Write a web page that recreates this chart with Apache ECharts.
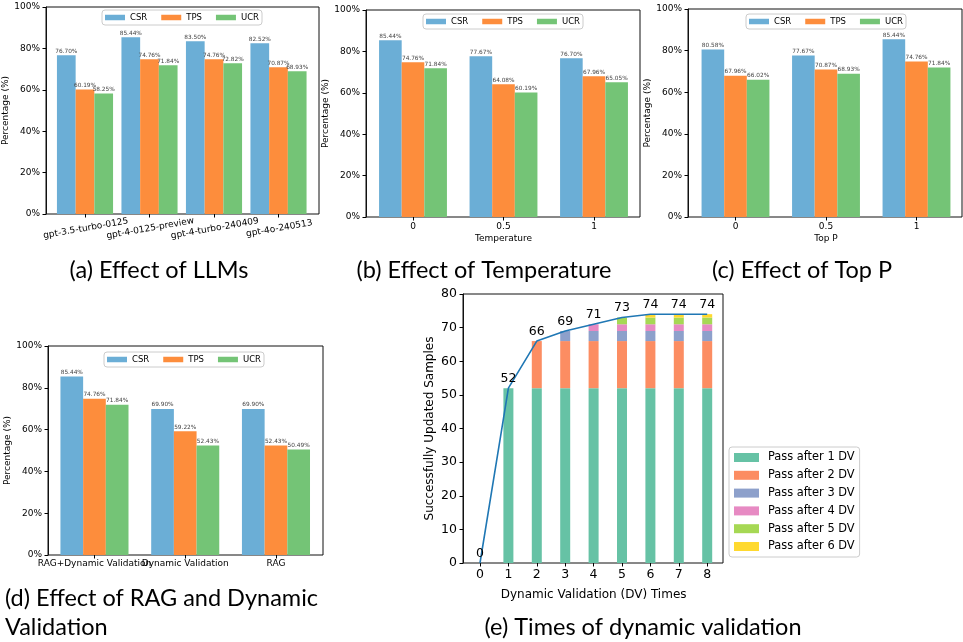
<!DOCTYPE html>
<html><head><meta charset="utf-8">
<script src="https://cdn.jsdelivr.net/npm/echarts@6/dist/echarts.min.js"></script>
<style>html,body{margin:0;padding:0;background:#fff}#c{width:963px;height:642px}</style>
</head><body><div id="c"></div>
<script>
// ---------- data ----------
const seriesNames = ['CSR', 'TPS', 'UCR'];

const llmCategories = ['gpt-3.5-turbo-0125', 'gpt-4-0125-preview', 'gpt-4-turbo-240409', 'gpt-4o-240513'];
const llmCSR = [76.70, 85.44, 83.50, 82.52];
const llmTPS = [60.19, 74.76, 74.76, 70.87];
const llmUCR = [58.25, 71.84, 72.82, 68.93];

const tempCategories = ['0', '0.5', '1'];
const tempCSR = [85.44, 77.67, 76.70];
const tempTPS = [74.76, 64.08, 67.96];
const tempUCR = [71.84, 60.19, 65.05];

const topPCategories = ['0', '0.5', '1'];
const topPCSR = [80.58, 77.67, 85.44];
const topPTPS = [67.96, 70.87, 74.76];
const topPUCR = [66.02, 68.93, 71.84];

const ragCategories = ['RAG+Dynamic Validation', 'Dynamic Validation', 'RAG'];
const ragCSR = [85.44, 69.90, 69.90];
const ragTPS = [74.76, 59.22, 52.43];
const ragUCR = [71.84, 52.43, 50.49];

const dvCategories = ['0', '1', '2', '3', '4', '5', '6', '7', '8'];
const dvLegendNames = ['Pass after 1 DV', 'Pass after 2 DV', 'Pass after 3 DV', 'Pass after 4 DV', 'Pass after 5 DV', 'Pass after 6 DV'];
const passAfter1 = [0, 52, 52, 52, 52, 52, 52, 52, 52];
const passAfter2 = [0, 0, 14, 14, 14, 14, 14, 14, 14];
const passAfter3 = [0, 0, 0, 3, 3, 3, 3, 3, 3];
const passAfter4 = [0, 0, 0, 0, 2, 2, 2, 2, 2];
const passAfter5 = [0, 0, 0, 0, 0, 2, 2, 2, 2];
const passAfter6 = [0, 0, 0, 0, 0, 0, 1, 1, 1];
const dvTotals = [0, 52, 66, 69, 71, 73, 74, 74, 74];

const captions = [
  {text: '(a) Effect of LLMs', x: 159, y: 270, align: 'center'},
  {text: '(b) Effect of Temperature', x: 484, y: 270, align: 'center'},
  {text: '(c) Effect of Top P', x: 802, y: 270, align: 'center'},
  {text: '(d) Effect of RAG and Dynamic', x: 5, y: 598, align: 'left'},
  {text: 'Validation', x: 5, y: 627, align: 'left'},
  {text: '(e) Times of dynamic validation', x: 643, y: 627, align: 'center'}
];

// ---------- style ----------
const FONT = 'DejaVu Sans';
const CAP_FONT = 'Lato';
const barColors = ['#6baed6', '#fd8d3c', '#74c476'];
const dvColors = ['#66c2a5', '#fc8d62', '#8da0cb', '#e78ac3', '#a6d854', '#ffd92f'];

const panels = [
  {frame: {left: 46, top: 7, width: 273, height: 207}, inner: {left: 52.75, width: 258},
   cats: llmCategories, vals: [llmCSR, llmTPS, llmUCR], gap: '13%', xName: '', rotate: 10, labelMargin: 10,
   legend: {left: 102, top: 10}},
  {frame: {left: 366, top: 10, width: 274, height: 207}, inner: {left: 367.75, width: 271.5},
   cats: tempCategories, vals: [tempCSR, tempTPS, tempUCR], gap: '25%', xName: 'Temperature', rotate: 0, labelMargin: 5,
   legend: {left: 423, top: 14}},
  {frame: {left: 688, top: 9, width: 274, height: 208}, inner: {left: 690.25, width: 271.5},
   cats: topPCategories, vals: [topPCSR, topPTPS, topPUCR], gap: '25%', xName: 'Top P', rotate: 0, labelMargin: 5,
   legend: {left: 746, top: 14}},
  {frame: {left: 48, top: 346, width: 275, height: 209}, inner: {left: 49.1, width: 272.25},
   cats: ragCategories, vals: [ragCSR, ragTPS, ragUCR], gap: '25%', xName: '', rotate: 0, labelMargin: 4,
   legend: {left: 104, top: 352}}
];

const grid = [], xAxis = [], yAxis = [], series = [], legend = [];
const tickStyle = {show: true, length: 3.5, lineStyle: {color: '#000', width: 1}};

panels.forEach((p, i) => {
  const f = p.frame;
  grid.push({left: f.left, top: f.top, width: f.width, height: f.height, show: true,
    borderColor: '#111', borderWidth: 1, backgroundColor: 'transparent', containLabel: false});
  grid.push({left: p.inner.left, top: f.top, width: p.inner.width, height: f.height, containLabel: false});
  const fi = 2 * i, ii = 2 * i + 1;
  xAxis.push({type: 'value', gridIndex: fi, min: 0, max: 1, show: false});
  xAxis.push({type: 'category', gridIndex: ii, data: p.cats,
    axisLine: {show: false}, axisTick: Object.assign({alignWithLabel: true}, tickStyle),
    axisLabel: {fontFamily: FONT, fontSize: 9, color: '#000', margin: p.labelMargin, rotate: p.rotate,
      align: 'center', verticalAlign: 'top', interval: 0, hideOverlap: false},
    name: p.xName, nameLocation: 'middle', nameGap: 17,
    nameTextStyle: {fontFamily: FONT, fontSize: 9, color: '#000'}});
  yAxis.push({type: 'value', gridIndex: fi, min: 0, max: 100, interval: 20,
    name: 'Percentage (%)', nameLocation: 'middle', nameGap: 31,
    nameTextStyle: {fontFamily: FONT, fontSize: 9, color: '#000'},
    axisLine: {show: true, lineStyle: {color: '#111', width: 1}}, axisTick: tickStyle,
    axisLabel: {formatter: '{value}%', fontFamily: FONT, fontSize: 9, color: '#000', margin: 6},
    splitLine: {show: false}});
  yAxis.push({type: 'value', gridIndex: ii, min: 0, max: 100, show: false});
  p.vals.forEach((v, j) => {
    series.push({type: 'bar', name: seriesNames[j], xAxisIndex: ii, yAxisIndex: ii, data: v,
      barGap: '0%', barCategoryGap: p.gap, itemStyle: {color: barColors[j]},
      label: {show: true, position: 'top', distance: 1, formatter: q => q.value.toFixed(2) + '%',
        fontFamily: FONT, fontSize: 5.8, color: '#444'}});
  });
  legend.push({data: seriesNames, left: p.legend.left, top: p.legend.top, orient: 'horizontal',
    icon: 'rect', itemWidth: 20, itemHeight: 5.5, itemGap: 14, padding: [3, 3],
    borderColor: '#ccc', borderWidth: 1, borderRadius: 3, backgroundColor: '#fff',
    textStyle: {fontFamily: FONT, fontSize: 8.5, color: '#000'}, selectedMode: false});
});

// panel (e)
const eF = {left: 463, top: 294, width: 260, height: 269};
grid.push({left: eF.left, top: eF.top, width: eF.width, height: eF.height, show: true,
  borderColor: '#111', borderWidth: 1, backgroundColor: 'transparent'});
grid.push({left: 465.8, top: eF.top, width: 255.6, height: eF.height});
xAxis.push({type: 'value', gridIndex: 8, min: 0, max: 1, show: false});
xAxis.push({type: 'category', gridIndex: 9, data: dvCategories,
  axisLine: {show: false}, axisTick: Object.assign({alignWithLabel: true}, tickStyle),
  axisLabel: {fontFamily: FONT, fontSize: 12.5, color: '#000', margin: 5, interval: 0},
  name: 'Dynamic Validation (DV) Times', nameLocation: 'middle', nameGap: 26,
  nameTextStyle: {fontFamily: FONT, fontSize: 12, color: '#000'}});
yAxis.push({type: 'value', gridIndex: 8, min: 0, max: 80, interval: 10,
  name: 'Successfully Updated Samples', nameLocation: 'middle', nameGap: 27,
  nameTextStyle: {fontFamily: FONT, fontSize: 12, color: '#000'},
  axisLine: {show: true, lineStyle: {color: '#111', width: 1}}, axisTick: tickStyle,
  axisLabel: {fontFamily: FONT, fontSize: 12.5, color: '#000', margin: 6}, splitLine: {show: false}});
yAxis.push({type: 'value', gridIndex: 9, min: 0, max: 80, show: false});
[passAfter1, passAfter2, passAfter3, passAfter4, passAfter5, passAfter6].forEach((v, j) => {
  series.push({type: 'bar', name: dvLegendNames[j], xAxisIndex: 9, yAxisIndex: 9, data: v,
    stack: 'dv', barWidth: 10, itemStyle: {color: dvColors[j]}});
});
series.push({type: 'line', name: 'Total', xAxisIndex: 9, yAxisIndex: 9, data: dvTotals,
  symbol: 'circle', symbolSize: 0, showSymbol: true, lineStyle: {color: '#1f77b4', width: 1.6},
  itemStyle: {color: '#1f77b4'}, z: 5,
  label: {show: true, position: 'top', distance: 3, fontFamily: FONT, fontSize: 12.5, color: '#000'}});
legend.push({data: dvLegendNames, left: 729, top: 447, orient: 'vertical', icon: 'rect',
  itemWidth: 25, itemHeight: 9, itemGap: 6.8, padding: [5, 5, 5, 5],
  borderColor: '#ccc', borderWidth: 1, borderRadius: 3, backgroundColor: '#fff',
  textStyle: {fontFamily: FONT, fontSize: 11.4, color: '#000', padding: [0, 0, 0, 4]}, selectedMode: false});

const graphic = captions.map(c => ({type: 'text', x: c.x, y: c.y,
  style: {text: c.text, fontFamily: CAP_FONT, fontSize: 23.5, fill: '#000', textAlign: c.align, textVerticalAlign: 'middle'}}));

const chart = echarts.init(document.getElementById('c'), null, {renderer: 'canvas'});
chart.setOption({animation: false, backgroundColor: '#fff', grid, xAxis, yAxis, series, legend, graphic});
</script></body></html>
